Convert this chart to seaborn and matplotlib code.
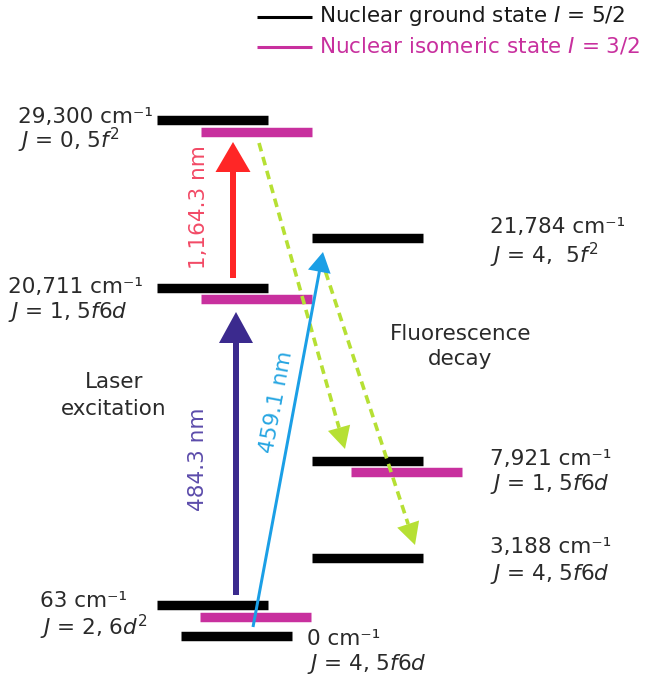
import numpy as np
import pandas as pd
import matplotlib
matplotlib.use("Agg")
import matplotlib.pyplot as plt
import seaborn as sns

# ---- Electronic levels of Th ion (energies in cm^-1) ----
level_energy = [0, 63, 3188, 7921, 20711, 21784, 29300]
level_J = [4, 2, 4, 1, 1, 4, 0]
level_config = ["5f6d", "6d2", "5f6d", "5f6d", "5f6d", "5f2", "5f2"]
has_isomer = [False, True, False, True, True, False, True]

# ---- Laser excitation steps ----
laser_nm = [484.3, 1164.3, 459.1]
laser_from = [63, 20711, 0]
laser_to = [20711, 29300, 21784]

# ---- Fluorescence decay channels ----
decay_from = [29300, 21784]
decay_to = [7921, 3188]

# ---- Diagram layout (pixel units, y grows downward) ----
level_y = {0: 635.5, 63: 604.5, 3188: 558, 7921: 460.5, 20711: 288, 21784: 238, 29300: 119.5}
level_x0 = {0: 181, 63: 157, 3188: 312, 7921: 312, 20711: 157, 21784: 312, 29300: 157}
iso_shift = {63: (43, 12), 7921: (39, 11.5), 20711: (44, 11), 29300: (44, 12.5)}
bar_len = 111

c_ground = "#000000"
c_iso = "#c8309e"
c_text = "#2a2a2a"
c_purple, c_purple_txt = "#3b2a8e", "#5c4cab"
c_red, c_red_txt = "#ff2626", "#f24a66"
c_cyan, c_cyan_txt = "#1b9fe6", "#27a6e2"
c_green = "#b6e034"

sns.set_theme(style="white")
plt.rcParams["font.family"] = ["DejaVu Sans"]
plt.rcParams["mathtext.fontset"] = "dejavusans"
FS = 15.5

fig = plt.figure(figsize=(6.46, 6.82), dpi=100)
ax = fig.add_axes([0, 0, 1, 1])

# ---- Level bars drawn through seaborn ----
rows = []
for E, iso in zip(level_energy, has_isomer):
    x0, y = level_x0[E], level_y[E]
    rows += [dict(x=x0, y=y, state="ground", bar=f"g{E}"),
             dict(x=x0 + bar_len, y=y, state="ground", bar=f"g{E}")]
    if iso:
        dx, dy = iso_shift[E]
        rows += [dict(x=x0 + dx, y=y + dy, state="isomer", bar=f"i{E}"),
                 dict(x=x0 + dx + bar_len, y=y + dy, state="isomer", bar=f"i{E}")]
bars = pd.DataFrame(rows)
sns.lineplot(data=bars, x="x", y="y", hue="state", units="bar", estimator=None,
             sort=False, palette={"ground": c_ground, "isomer": c_iso},
             linewidth=6.8, legend=False, ax=ax, solid_capstyle="butt")


def iso_y(E):
    return level_y[E] + iso_shift[E][1] if E in iso_shift else level_y[E]


# ---- Laser excitation arrows ----
laser_style = {
    484.3: dict(x0=236, x1=236, gap0=9.5, gap1=13, width=6, hw=34, hl=31, c=c_purple),
    1164.3: dict(x0=233, x1=233, gap0=10, gap1=10, width=6, hw=35, hl=30, c=c_red),
    459.1: dict(x0=253, x1=323, gap0=8.5, gap1=14, width=3, hw=23, hl=20, c=c_cyan),
}
for nm, Ef, Et in zip(laser_nm, laser_from, laser_to):
    s = laser_style[nm]
    ys = level_y[Ef] - s["gap0"]
    ye = iso_y(Et) + s["gap1"]
    ax.arrow(s["x0"], ys, s["x1"] - s["x0"], ye - ys, width=s["width"],
             head_width=s["hw"], head_length=s["hl"], length_includes_head=True,
             color=s["c"], lw=0, zorder=4)

# wavelength labels
laser_lbl = {484.3: (198, 459, 90, c_purple_txt),
             1164.3: (199, 207, 90, c_red_txt),
             459.1: (277, 402, 79.4, c_cyan_txt)}
for nm in laser_nm:
    x, y, rot, col = laser_lbl[nm]
    ax.text(x, y, f"{nm:,.1f} nm", rotation=rot, rotation_mode="anchor",
            ha="center", va="center", fontsize=FS, color=col)

# ---- Fluorescence decay (dashed) arrows ----
decay_geom = {29300: (259, 11), 21784: (321, 20)}
decay_tip = {7921: (345, -11.5), 3188: (415, -13)}
for Ef, Et in zip(decay_from, decay_to):
    xs, gs = decay_geom[Ef]
    xt, gt = decay_tip[Et]
    p0 = np.array([xs, iso_y(Ef) + gs])
    p1 = np.array([xt, level_y[Et] + gt])
    u = (p1 - p0) / np.linalg.norm(p1 - p0)
    hl = 22
    base = p1 - hl * u
    ax.plot([p0[0], base[0]], [p0[1], base[1]], color=c_green, lw=2.6,
            dashes=(2.4, 1.6), solid_capstyle="butt", dash_capstyle="butt", zorder=3)
    ax.arrow(base[0], base[1], hl * u[0], hl * u[1], width=0.01, head_width=23,
             head_length=hl, length_includes_head=True, color=c_green, lw=0, zorder=3)


# ---- Level annotations ----
def config_tex(cfg):
    out = ""
    i = 0
    while i < len(cfg):
        ch = cfg[i]
        if ch in "fd":
            if i + 1 < len(cfg) and cfg[i + 1] == "2":
                out += f"${ch}^2$"
                i += 2
                continue
            out += f"${ch}$"
        else:
            out += ch
        i += 1
    return out


label_pos = {29300: (18, 123, 148), 20711: (8, 293, 318), 21784: (490, 233, 263),
             7921: (490, 465, 490), 3188: (490, 553, 580), 63: (40, 607, 635),
             0: (307, 645, 670)}
for E, J, cfg in zip(level_energy, level_J, level_config):
    x, y1, y2 = label_pos[E]
    sep = ",  " if E == 21784 else ", "
    ax.text(x, y1, f"{E:,} cm\u207b\u00b9", fontsize=FS, color=c_text, va="baseline")
    ax.text(x, y2, f"$J$ = {J}{sep}{config_tex(cfg)}", fontsize=FS, color=c_text,
            va="baseline")

ax.text(114, 388, "Laser", fontsize=FS, color=c_text, ha="center", va="baseline")
ax.text(114, 415, "excitation", fontsize=FS, color=c_text, ha="center", va="baseline")
ax.text(461, 340, "Fluorescence", fontsize=FS, color=c_text, ha="center", va="baseline")
ax.text(460, 365, "decay", fontsize=FS, color=c_text, ha="center", va="baseline")

# ---- Legend ----
ax.plot([257, 312], [17, 17], color=c_ground, lw=2.2, solid_capstyle="butt")
ax.plot([257, 312], [47, 47], color=c_iso, lw=2.2, solid_capstyle="butt")
ax.text(319, 22, "Nuclear ground state $I$ = 5/2", fontsize=FS, color="#1a1a1a",
        va="baseline")
ax.text(319, 53, "Nuclear isomeric state $I$ = 3/2", fontsize=FS, color=c_iso,
        va="baseline")

ax.set_xlim(0, 646)
ax.set_ylim(682, 0)
ax.set_axis_off()

fig.savefig("out.png", dpi=100)
